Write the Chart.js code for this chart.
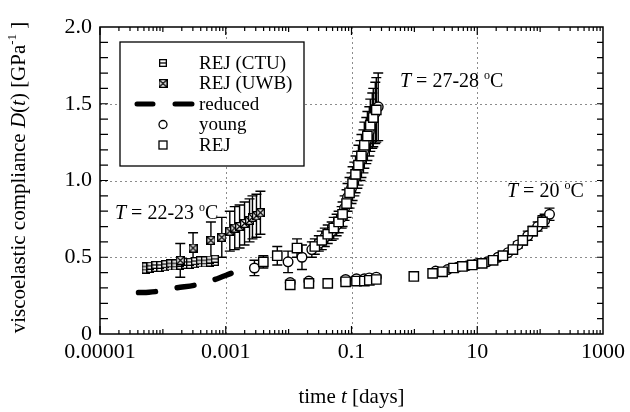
<!DOCTYPE html>
<html>
<head>
<meta charset="utf-8">
<script src="https://cdn.jsdelivr.net/npm/chart.js@4.4.0/dist/chart.umd.min.js"></script>
<style>
  html, body { margin: 0; padding: 0; background: #fff; }
  #wrap { width: 630px; height: 412px; }
</style>
</head>
<body>
<div id="wrap"><canvas id="chart" width="630" height="412"></canvas></div>
<script>
// axis ticks
const xTickValues = [1e-5, 1e-3, 0.1, 10, 1000];
const xTickLabels = ['0.00001', '0.001', '0.1', '10', '1000'];
const yTickValues = [0, 0.5, 1, 1.5, 2];
const yTickLabels = ['0', '0.5', '1.0', '1.5', '2.0'];
const xGridValues = [1e-3, 0.1, 10];
const yGridValues = [0.5, 1, 1.5];

// reduced curve (dashed)
const reducedTime = [4.1e-5, 6e-5, 9e-5, 1.6e-4, 3.4e-4, 6.2e-4, 1.3e-3];
const reducedD = [0.27, 0.272, 0.28, 0.30, 0.32, 0.35, 0.40];

// REJ (CTU), T = 22-23 C, two overlapping rows
const ctuTime = [5.3e-5, 6.35e-5, 7.6e-5, 9.1e-5, 1.09e-4, 1.31e-4, 1.57e-4, 1.89e-4,
                 2.26e-4, 2.71e-4, 3.25e-4, 3.9e-4, 4.67e-4, 5.6e-4, 6.7e-4];
const ctuUpper = [0.44, 0.445, 0.45, 0.45, 0.455, 0.46, 0.46, 0.465, 0.47, 0.47, 0.475, 0.48, 0.48, 0.485, 0.49];
const ctuLower = [0.42, 0.425, 0.43, 0.43, 0.435, 0.44, 0.44, 0.445, 0.45, 0.45, 0.455, 0.46, 0.46, 0.465, 0.47];

// REJ (UWB), T = 22-23 C
const uwbTime = [1.89e-4, 3.02e-4, 5.81e-4, 8.65e-4, 1.16e-3, 1.39e-3, 1.66e-3, 1.99e-3, 2.39e-3, 2.66e-3, 3.08e-3, 3.56e-3];
const uwbD = [0.48, 0.56, 0.61, 0.63, 0.67, 0.69, 0.70, 0.72, 0.74, 0.76, 0.77, 0.79];
const uwbErr = [0.11, 0.10, 0.12, 0.13, 0.13, 0.14, 0.14, 0.14, 0.14, 0.14, 0.14, 0.14];

// young: T = 27-28 C curve, low row, T = 20 C
const youngTime = [2.86e-3, 9.8e-3, 0.0163, 0.0234, 0.0302, 0.0376, 0.0484, 0.058, 0.0697, 0.0776, 0.0865,
                   0.1, 0.111, 0.124, 0.139, 0.155, 0.172, 0.192, 0.214, 0.239, 0.266,
                   0.0106, 0.021, 0.0806, 0.12, 0.16, 0.192, 0.248,
                   2.18, 3.37, 4.84, 6.96, 10, 14.4, 21.4, 30.8, 44.2, 63.6, 91.4, 118, 141];
const youngD = [0.43, 0.47, 0.50, 0.55, 0.59, 0.63, 0.67, 0.71, 0.76, 0.82, 0.89,
                0.95, 1.01, 1.07, 1.13, 1.19, 1.26, 1.32, 1.39, 1.44, 1.48,
                0.335, 0.345, 0.355, 0.36, 0.36, 0.365, 0.37,
                0.41, 0.42, 0.435, 0.445, 0.46, 0.47, 0.50, 0.53, 0.58, 0.64, 0.70, 0.74, 0.78];
const youngErr = [0.05, 0.07, 0.08, 0.05, 0.05, 0.06, 0.06, 0.07, 0.07, 0.08, 0.09,
                  0.10, 0.11, 0.12, 0.13, 0.14, 0.15, 0.16, 0.18, 0.20, 0.22,
                  0, 0, 0, 0, 0, 0, 0,
                  0, 0, 0, 0, 0, 0, 0, 0, 0.02, 0.03, 0.03, 0.04, 0.04];

// REJ
const rejTime = [3.96e-3, 6.6e-3, 0.0136, 0.0261, 0.0337, 0.0419, 0.0521, 0.0624, 0.0721, 0.0834,
                 0.0931, 0.104, 0.116, 0.129, 0.144, 0.160, 0.179, 0.199, 0.222, 0.248,
                 0.0106, 0.021, 0.0419, 0.0806, 0.12, 0.16, 0.192, 0.248, 0.98,
                 1.95, 2.81, 4.19, 5.8, 8.34, 12.0, 17.9, 25.6, 36.9, 53.0, 76.2, 109];
const rejD = [0.47, 0.51, 0.56, 0.57, 0.61, 0.65, 0.69, 0.73, 0.78, 0.85,
              0.92, 0.98, 1.04, 1.10, 1.16, 1.23, 1.29, 1.36, 1.41, 1.46,
              0.32, 0.33, 0.33, 0.34, 0.345, 0.345, 0.35, 0.355, 0.375,
              0.395, 0.405, 0.43, 0.44, 0.45, 0.46, 0.48, 0.51, 0.55, 0.61, 0.67, 0.73];
const rejErr = [0.04, 0.06, 0.06, 0.05, 0.06, 0.06, 0.07, 0.07, 0.08, 0.09,
                0.10, 0.11, 0.12, 0.13, 0.14, 0.15, 0.16, 0.17, 0.19, 0.21,
                0, 0, 0, 0, 0, 0, 0, 0, 0,
                0, 0, 0, 0, 0, 0, 0, 0, 0.02, 0.03, 0.03, 0.04];

const legendLabels = ['REJ (CTU)', 'REJ (UWB)', 'reduced', 'young', 'REJ'];

const SERIF = '"Liberation Serif", "Times New Roman", serif';
const font = (size, italic) => (italic ? 'italic ' : '') + size + 'px ' + SERIF;

const pts = (xs, ys) => xs.map((t, i) => ({ x: t, y: ys[i] }));

// box markers: 'bar' = square with middle line, 'cross' = square with X
function boxMarker(kind, s) {
  const c = document.createElement('canvas');
  c.width = s; c.height = s;
  const g = c.getContext('2d');
  g.fillStyle = '#fff';
  g.fillRect(0, 0, s, s);
  g.strokeStyle = '#000';
  g.lineWidth = 1.3;
  g.strokeRect(0.65, 0.65, s - 1.3, s - 1.3);
  g.beginPath();
  if (kind === 'bar') {
    g.moveTo(0.6, s / 2); g.lineTo(s - 0.6, s / 2);
  } else {
    g.moveTo(1, 1); g.lineTo(s - 1, s - 1);
    g.moveTo(s - 1, 1); g.lineTo(1, s - 1);
  }
  g.stroke();
  return c;
}
const ctuMark = boxMarker('bar', 8);
const uwbMark = boxMarker('cross', 9);

// text with italic / superscript pieces
function richWidth(ctx, parts, size) {
  let w = 0;
  parts.forEach(p => {
    ctx.font = font(p.sup ? Math.round(size * 0.62) : size, p.i);
    w += ctx.measureText(p.t).width;
  });
  return w;
}
function drawRich(ctx, parts, x, y, size) {
  ctx.textBaseline = 'alphabetic';
  ctx.textAlign = 'left';
  parts.forEach(p => {
    const s = p.sup ? Math.round(size * 0.62) : size;
    ctx.font = font(s, p.i);
    ctx.fillText(p.t, x, p.sup ? y - size * 0.42 : y);
    x += ctx.measureText(p.t).width;
  });
}
const tempLabel = r => [{ t: 'T', i: true }, { t: ' = ' + r + ' ' }, { t: 'o', sup: true }, { t: 'C' }];

const errorBars = {
  id: 'errorBars',
  beforeDatasetsDraw(chart) {
    const { ctx, scales: { x, y } } = chart;
    ctx.save();
    ctx.strokeStyle = '#000';
    ctx.lineWidth = 1.4;
    chart.data.datasets.forEach(ds => {
      if (!ds.errors) return;
      ds.data.forEach((p, j) => {
        const e = ds.errors[j];
        if (!e) return;
        const px = x.getPixelForValue(p.x);
        const top = y.getPixelForValue(p.y + e);
        const bot = y.getPixelForValue(p.y - e);
        ctx.beginPath();
        ctx.moveTo(px, top); ctx.lineTo(px, bot);
        ctx.moveTo(px - 5, top); ctx.lineTo(px + 5, top);
        ctx.moveTo(px - 5, bot); ctx.lineTo(px + 5, bot);
        ctx.stroke();
      });
    });
    ctx.restore();
  }
};

const frame = {
  id: 'frame',
  beforeDatasetsDraw(chart) {
    const { ctx, chartArea: a, scales: { x, y } } = chart;
    ctx.save();
    ctx.strokeStyle = '#8c8c8c';
    ctx.lineWidth = 1;
    ctx.setLineDash([2, 3]);
    ctx.beginPath();
    xGridValues.forEach(v => {
      const px = Math.round(x.getPixelForValue(v)) + 0.5;
      ctx.moveTo(px, a.top); ctx.lineTo(px, a.bottom);
    });
    yGridValues.forEach(v => {
      const py = Math.round(y.getPixelForValue(v)) + 0.5;
      ctx.moveTo(a.left, py); ctx.lineTo(a.right, py);
    });
    ctx.stroke();
    ctx.restore();
  },
  afterDatasetsDraw(chart) {
    const { ctx, chartArea: a, scales: { x, y } } = chart;
    ctx.save();
    ctx.strokeStyle = '#000';
    ctx.lineWidth = 1.5;
    ctx.strokeRect(a.left, a.top, a.right - a.left, a.bottom - a.top);
    ctx.lineWidth = 1.2;
    ctx.beginPath();
    // log ticks, top and bottom, pointing in
    for (let n = -5; n <= 2; n++) {
      for (let k = 1; k <= 9; k++) {
        const v = k * Math.pow(10, n);
        const px = x.getPixelForValue(v);
        const len = k === 1 ? (xTickValues.includes(v) || n % 2 !== 0 ? 8 : 5) : 4;
        ctx.moveTo(px, a.bottom); ctx.lineTo(px, a.bottom - len);
        ctx.moveTo(px, a.top); ctx.lineTo(px, a.top + len);
      }
    }
    // y ticks every 0.1, left and right
    for (let i = 1; i < 20; i++) {
      const py = y.getPixelForValue(i / 10);
      ctx.moveTo(a.left, py); ctx.lineTo(a.left + 8, py);
      ctx.moveTo(a.right, py); ctx.lineTo(a.right - 6, py);
    }
    ctx.stroke();
    ctx.restore();
  },
  afterDraw(chart) {
    const { ctx, chartArea: a } = chart;
    ctx.save();

    // legend
    const bx = 120, by = 42, bw = 184, bh = 124;
    ctx.fillStyle = '#fff';
    ctx.fillRect(bx, by, bw, bh);
    ctx.strokeStyle = '#000';
    ctx.lineWidth = 1.3;
    ctx.strokeRect(bx, by, bw, bh);
    legendLabels.forEach((lab, i) => {
      const ly = 63 + i * 20.5;
      const mx = 163;
      if (i === 0) ctx.drawImage(ctuMark, mx - 4, ly - 4);
      if (i === 1) ctx.drawImage(uwbMark, mx - 4.5, ly - 4.5);
      if (i === 2) {
        ctx.lineWidth = 5;
        ctx.lineCap = 'round';
        ctx.beginPath();
        ctx.moveTo(137, ly); ctx.lineTo(153, ly);
        ctx.moveTo(175, ly); ctx.lineTo(192, ly);
        ctx.stroke();
        ctx.lineCap = 'butt';
      }
      ctx.lineWidth = 1.3;
      if (i === 3) {
        ctx.beginPath();
        ctx.arc(mx, ly, 4, 0, Math.PI * 2);
        ctx.stroke();
      }
      if (i === 4) ctx.strokeRect(mx - 4, ly - 4, 8, 8);
      ctx.fillStyle = '#000';
      ctx.font = font(19);
      ctx.textBaseline = 'middle';
      ctx.textAlign = 'left';
      ctx.fillText(lab, 199, ly + 1);
    });

    // temperature notes
    ctx.fillStyle = '#000';
    drawRich(ctx, tempLabel('22-23'), 115, 219, 20);
    drawRich(ctx, tempLabel('27-28'), 400, 87, 20);
    drawRich(ctx, tempLabel('20'), 507, 197, 20);

    // axis titles
    const xt = [{ t: 'time ' }, { t: 't', i: true }, { t: ' [days]' }];
    const cx = (a.left + a.right) / 2;
    drawRich(ctx, xt, cx - richWidth(ctx, xt, 21) / 2, 403, 21);

    const yt = [{ t: 'viscoelastic compliance ' }, { t: 'D', i: true }, { t: '(' }, { t: 't', i: true },
                { t: ') [GPa' }, { t: '-1', sup: true }, { t: ' ]' }];
    ctx.translate(25, (a.top + a.bottom) / 2 - 3);
    ctx.rotate(-Math.PI / 2);
    drawRich(ctx, yt, -richWidth(ctx, yt, 21) / 2, 0, 21);
    ctx.restore();
  }
};

new Chart(document.getElementById('chart'), {
  type: 'scatter',
  data: {
    datasets: [
      {
        label: 'REJ',
        data: pts(rejTime, rejD),
        errors: rejErr,
        pointStyle: 'rect',
        pointRadius: 6.6,
        backgroundColor: '#fff',
        borderColor: '#000',
        borderWidth: 1.4,
        order: 1
      },
      {
        label: 'young',
        data: pts(youngTime, youngD),
        errors: youngErr,
        pointStyle: 'circle',
        pointRadius: 4.8,
        backgroundColor: '#fff',
        borderColor: '#000',
        borderWidth: 1.4,
        order: 2
      },
      {
        label: 'REJ (UWB)',
        data: pts(uwbTime, uwbD),
        errors: uwbErr,
        pointStyle: uwbMark,
        order: 3
      },
      {
        label: 'REJ (CTU)',
        data: pts(ctuTime, ctuLower).concat(pts(ctuTime, ctuUpper)),
        pointStyle: ctuMark,
        order: 4
      },
      {
        type: 'line',
        label: 'reduced',
        data: pts(reducedTime, reducedD),
        showLine: true,
        borderColor: '#000',
        borderWidth: 5.5,
        borderDash: [17, 22],
        borderCapStyle: 'round',
        cubicInterpolationMode: 'monotone',
        pointRadius: 0,
        fill: false,
        order: 5
      }
    ]
  },
  options: {
    responsive: false,
    animation: false,
    layout: { padding: { top: 27, right: 25, left: 0, bottom: 0 } },
    plugins: {
      legend: { display: false },
      tooltip: { enabled: false }
    },
    scales: {
      x: {
        type: 'logarithmic',
        min: 1e-5,
        max: 1000,
        afterBuildTicks: s => { s.ticks = xTickValues.map(v => ({ value: v })); },
        afterFit: s => { s.height = 78; },
        grid: { display: false, drawTicks: false },
        border: { display: false },
        ticks: {
          color: '#000',
          font: { family: SERIF, size: 22 },
          padding: 5,
          maxRotation: 0,
          autoSkip: false,
          callback: (v, i) => xTickLabels[i]
        }
      },
      y: {
        type: 'linear',
        min: 0,
        max: 2,
        afterBuildTicks: s => { s.ticks = yTickValues.map(v => ({ value: v })); },
        afterFit: s => { s.width = 100; },
        grid: { display: false, drawTicks: false },
        border: { display: false },
        ticks: {
          color: '#000',
          font: { family: SERIF, size: 22 },
          padding: 8,
          callback: (v, i) => yTickLabels[i]
        }
      }
    }
  },
  plugins: [frame, errorBars]
});
</script>
</body>
</html>
